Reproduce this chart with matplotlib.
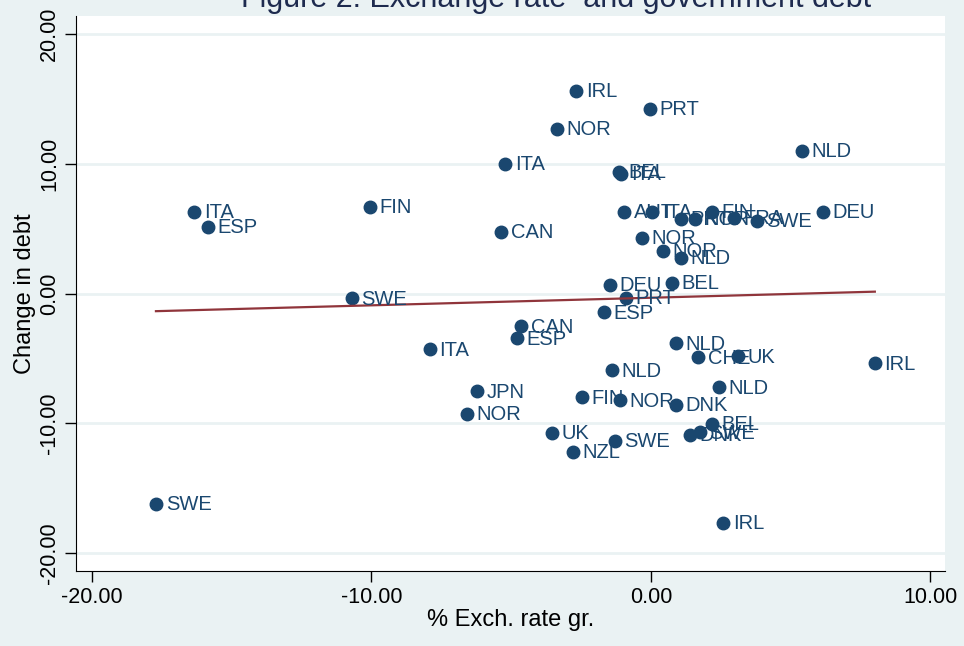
import matplotlib.pyplot as plt
import numpy as np

plt.rcParams['font.family'] = ['Liberation Sans', 'DejaVu Sans']

countries = ['IRL', 'PRT', 'NOR', 'NLD', 'ITA', 'BEL', 'ITA', 'ITA', 'ESP', 'FIN',
             'CAN', 'AUT', 'ITA', 'PRT', 'NOR', 'FIN', 'FRA', 'SWE', 'DEU', 'NOR',
             'NOR', 'NLD', 'DEU', 'BEL', 'PRT', 'ESP', 'SWE', 'CAN', 'ESP', 'ITA',
             'NLD', 'CHE', 'UK', 'IRL', 'NLD', 'NLD', 'JPN', 'NOR', 'FIN', 'NOR',
             'DNK', 'BEL', 'SWE', 'DNK', 'UK', 'NZL', 'SWE', 'SWE', 'IRL']
exch = [-2.68, -0.04, -3.36, 5.40, -5.22, -1.14, -1.07, -16.35, -15.85, -10.05,
        -5.37, -0.97, 0.04, 1.07, 1.57, 2.18, 2.97, 3.79, 6.15, -0.32,
        0.43, 1.07, -1.47, 0.75, -0.89, -1.68, -10.70, -4.65, -4.79, -7.91,
        0.89, 1.68, 3.11, 8.01, -1.40, 2.43, -6.23, -6.58, -2.47, -1.11,
        0.89, 2.18, 1.75, 1.40, -3.54, -2.79, -1.29, -17.71, 2.58]
debt = [15.59, 14.21, 12.67, 10.98, 9.98, 9.37, 9.22, 6.30, 5.15, 6.68,
        4.76, 6.30, 6.30, 5.76, 5.76, 6.30, 5.84, 5.61, 6.30, 4.30,
        3.30, 2.76, 0.69, 0.84, -0.31, -1.46, -0.38, -2.53, -3.46, -4.30,
        -3.84, -4.92, -4.84, -5.38, -5.91, -7.22, -7.53, -9.29, -7.99, -8.22,
        -8.60, -10.06, -10.68, -10.91, -10.75, -12.21, -11.37, -16.21, -17.67]

navy = '#1a476f'
bg = '#eaf2f3'

fig = plt.figure(figsize=(9.64, 6.46), dpi=100, facecolor=bg)
ax = fig.add_axes([76/964, 1-571/646, (945-76)/964, (571-16)/646])
ax.set_facecolor('white')

x = np.array(exch)
y = np.array(debt)
ax.plot(x, y, 'o', color=navy, markersize=9, zorder=3)
for c, xi, yi in zip(countries, exch, debt):
    ax.annotate(c, (xi, yi), xytext=(7, -0.5), textcoords='offset points',
                va='center', ha='left', fontsize=14.5, color=navy, zorder=4)

# linear fit
b, a = np.polyfit(x, y, 1)
xs = np.array([x.min(), x.max()])
ax.plot(xs, a + b*xs, color='#90353b', linewidth=1.6, zorder=3)

ax.set_xlim(-20.57, 10.52)
ax.set_ylim(-21.35, 21.35)
ax.set_xticks([-20, -10, 0, 10])
ax.set_xticklabels(['-20.00', '-10.00', '0.00', '10.00'])
ax.set_yticks([-20, -10, 0, 10, 20])
ax.set_yticklabels(['-20.00', '-10.00', '0.00', '10.00', '20.00'], rotation=90, va='center')
ax.tick_params(axis='both', labelsize=15.5, length=8, width=1, direction='out')
for yt in [-20, -10, 0, 10, 20]:
    ax.axhline(yt, color=bg, linewidth=2, zorder=1)

for s in ['top', 'right']:
    ax.spines[s].set_visible(False)

ax.set_xlabel('% Exch. rate gr.', fontsize=17, labelpad=1)
ax.set_ylabel('Change in debt', fontsize=17, labelpad=2)

fig.text(556/964, 1-7/646, 'Figure 2: Exchange rate  and government debt',
         ha='center', va='baseline', fontsize=22, color='#1e2b4f')

plt.savefig('out.png', dpi=100, facecolor=bg)
